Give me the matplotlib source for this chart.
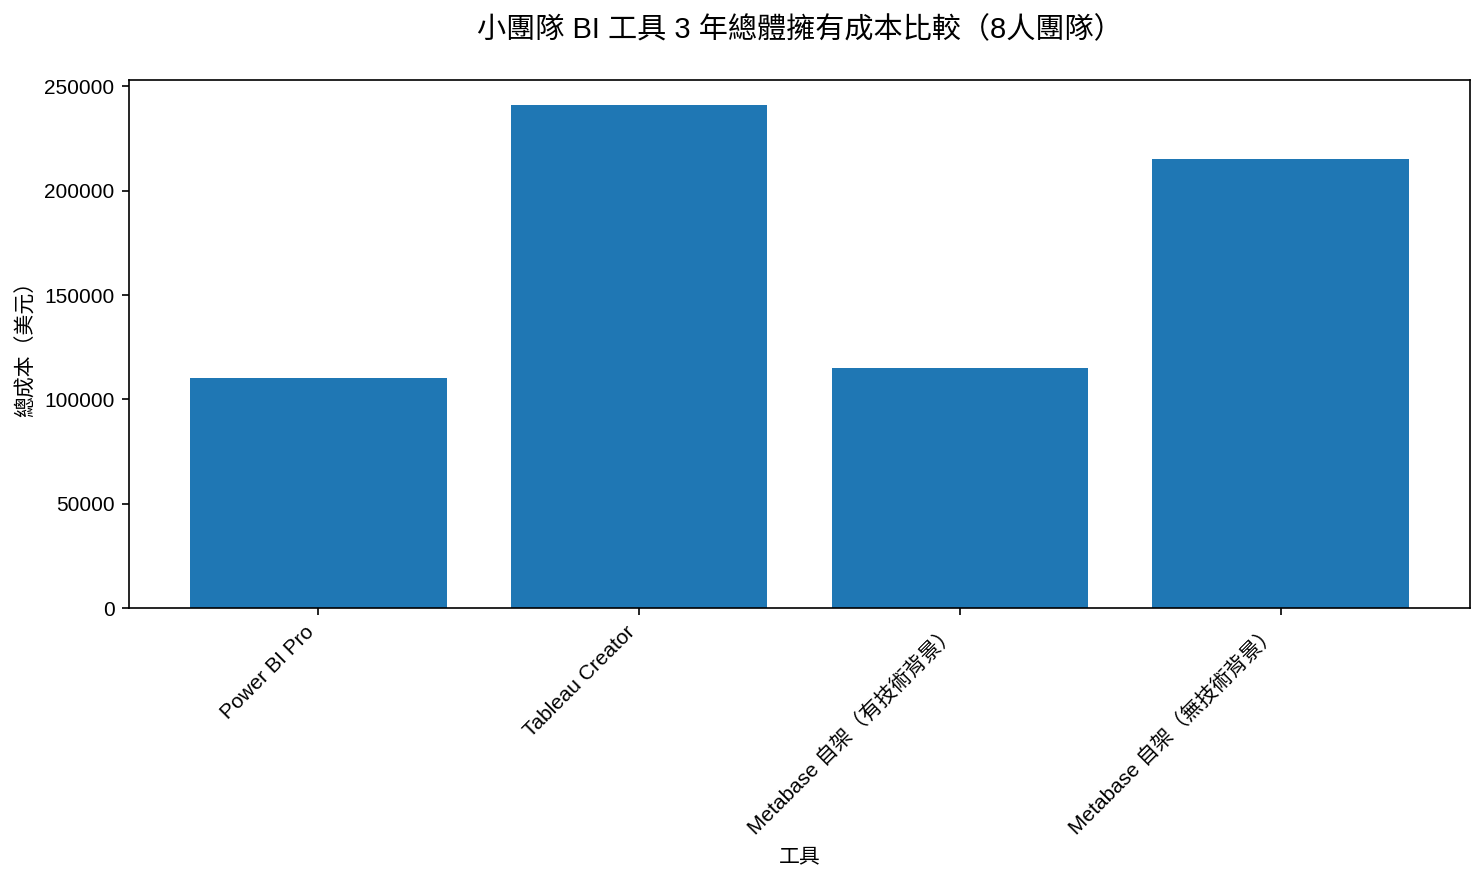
import matplotlib
matplotlib.use("Agg")
import matplotlib.pyplot as plt

plt.rcParams['font.family'] = ['Liberation Sans', 'Noto Sans CJK TC', 'DejaVu Sans']
plt.rcParams['axes.unicode_minus'] = False

tools = ["Power BI Pro", "Tableau Creator",
         "Metabase 自架（有技術背景）", "Metabase 自架（無技術背景）"]
total_cost = [110000, 241000, 115000, 215000]

fig, ax = plt.subplots(figsize=(14.84 / 1.5, 8.83 / 1.5), dpi=150)
fig.subplots_adjust(left=0.0869, right=0.9906, top=0.9094, bottom=0.3114)

ax.bar(tools, total_cost, color="#1f77b4", width=0.8)

ax.set_title("小團隊 BI 工具 3 年總體擁有成本比較（8人團隊）", fontsize=14, pad=20)
ax.set_xlabel("工具", fontsize=10)
ax.set_ylabel("總成本（美元）", fontsize=10)
plt.setp(ax.get_xticklabels(), rotation=45, ha="right")
ax.tick_params(labelsize=10)

fig.savefig("out.png", dpi=150)
